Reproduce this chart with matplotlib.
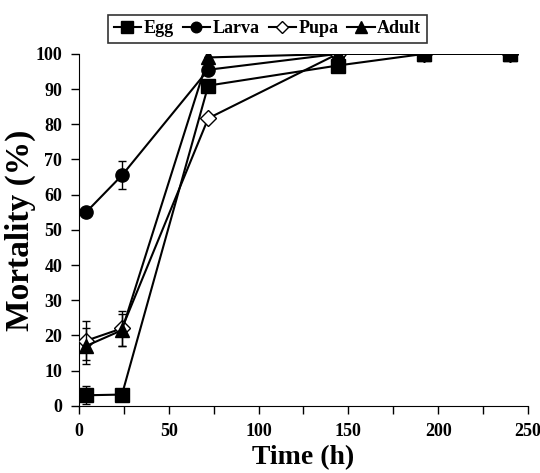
import matplotlib
matplotlib.use('Agg')
import matplotlib.pyplot as plt
from matplotlib.lines import Line2D
plt.rcParams['font.family'] = 'Liberation Serif'
plt.rcParams['font.weight'] = 'bold'

# ===== data =====
time_h = [4, 24, 72, 144, 192, 240]
egg = [3.0, 3.2, 91.0, 96.7, 100, 100]
egg_err = [2.5, 0, 0, 0, 0, 0]
larva = [55.0, 65.5, 95.5, 100, 100, 100]
larva_err = [0, 4.0, 0, 0, 0, 0]
pupa = [18.5, 22.0, 81.7, 100, 100, 100]
pupa_err = [5.5, 5.0, 0, 0, 0, 0]
adult = [17.0, 21.5, 99.0, 100, 100, 100]
adult_err = [5.0, 4.5, 0, 0, 0, 0]

fig = plt.figure(figsize=(5.4, 4.73), dpi=100)
ax = fig.add_axes([0.146, 0.142, 0.832, 0.744])

series = [
    ("Larva", larva, larva_err, dict(marker='o', mfc='black', ms=9.5), 3),
    ("Pupa", pupa, pupa_err, dict(marker='D', mfc='white', ms=8), 4),
    ("Adult", adult, adult_err, dict(marker='^', mfc='black', ms=10), 5),
    ("Egg", egg, egg_err, dict(marker='s', mfc='black', ms=10.5), 6),
]
styles = {}
for name, vals, err, style, z in series:
    ax.errorbar(time_h, vals, yerr=err, color='black', lw=1.5, mec='black',
                capsize=3, elinewidth=1, capthick=1, zorder=z, **style)
    styles[name] = style

order = ["Egg", "Larva", "Pupa", "Adult"]
handles = [Line2D([], [], color='black', lw=1.5, mec='black', **styles[n]) for n in order]
leg = ax.legend(handles, order, loc='center', bbox_to_anchor=(0.42, 1.072),
                ncol=4, frameon=True, fancybox=False, edgecolor='black', fontsize=13,
                handlelength=1.5, handletextpad=0.15, columnspacing=0.5, borderpad=0.3,
                markerscale=0.8)
leg.get_frame().set_linewidth(1.2)

ax.set_xlim(0, 250)
ax.set_ylim(0, 100)
ax.set_xticks(range(0, 251, 50))
ax.set_xticks(range(0, 251, 25), minor=True)
ax.set_yticks(range(0, 101, 10))
ax.tick_params(axis='both', which='major', labelsize=13, direction='out', length=6, width=1, pad=6)
ax.tick_params(axis='x', which='minor', direction='out', length=6, width=1)
ax.spines['top'].set_visible(False)
ax.spines['right'].set_visible(False)
ax.set_xlabel("Time (h)", fontsize=20, fontweight='bold')
ax.set_ylabel("Mortality (%)", fontsize=24, fontweight='bold')
ax.xaxis.set_label_coords(0.5, -0.112)
ax.yaxis.set_label_coords(-0.095, 0.5)

fig.savefig('out.png', dpi=100)
